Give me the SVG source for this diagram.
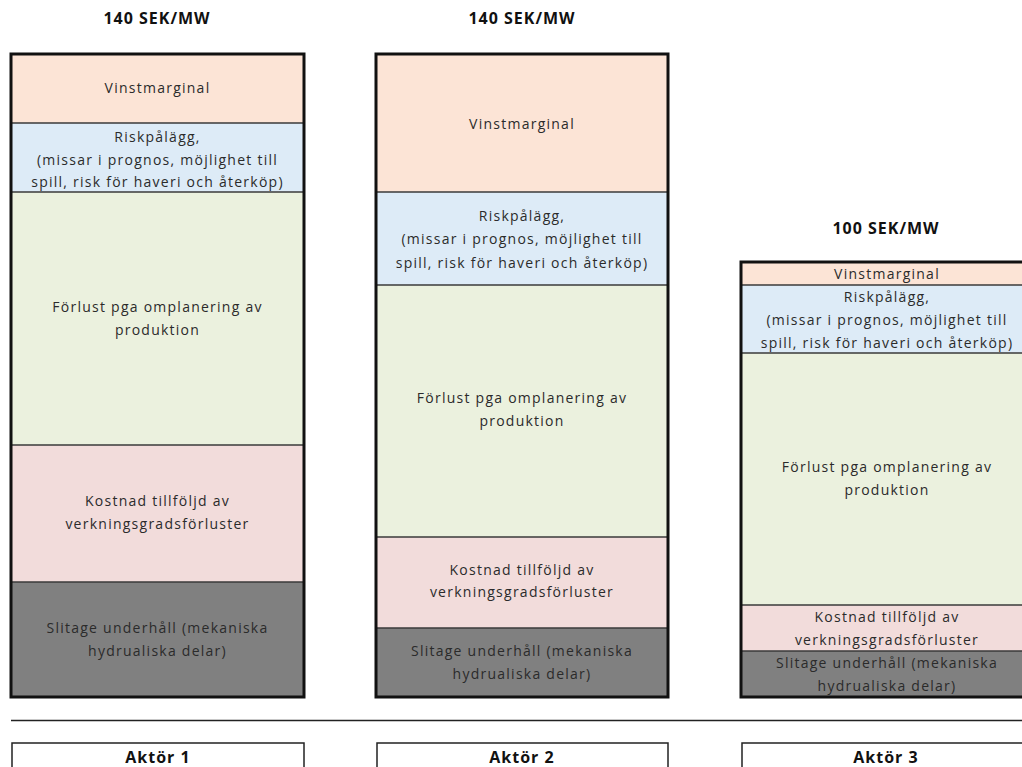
<svg xmlns="http://www.w3.org/2000/svg" width="1022" height="767" viewBox="0 0 1022 767">
<style>
.t{font-family:"Open Sans","Liberation Sans",sans-serif;font-size:14px;letter-spacing:1.25px;fill:#2b2b2b;text-anchor:middle}
.h{font-family:"Open Sans","Liberation Sans",sans-serif;font-size:16px;font-weight:bold;fill:#111;text-anchor:middle;letter-spacing:1px}
.div{stroke:#3a3a3a;stroke-width:1.5}
.outer{fill:none;stroke:#111;stroke-width:3}
.v{fill:#FCE4D6}.r{fill:#DDEBF7}.f{fill:#EBF1DE}.k{fill:#F2DCDB}.s{fill:#808080}
.lab{fill:#fff;stroke:#222;stroke-width:1.5}
</style>
<rect width="1022" height="767" fill="#fff"/>
<g id="aktor1">
<text class="h" x="157" y="24">140 SEK/MW</text>
<rect class="v" x="11" y="54" width="293" height="69"/>
<rect class="r" x="11" y="123" width="293" height="69"/>
<rect class="f" x="11" y="192" width="293" height="253"/>
<rect class="k" x="11" y="445" width="293" height="137"/>
<rect class="s" x="11" y="582" width="293" height="115"/>
<line class="div" x1="11" y1="123" x2="304" y2="123"/>
<line class="div" x1="11" y1="192" x2="304" y2="192"/>
<line class="div" x1="11" y1="445" x2="304" y2="445"/>
<line class="div" x1="11" y1="582" x2="304" y2="582"/>
<rect class="outer" x="11" y="54" width="293" height="643"/>
<text class="t" x="157.5" y="93">Vinstmarginal</text>
<text class="t" x="157.5" y="142">Riskpålägg,</text>
<text class="t" x="157.5" y="165">(missar i prognos, möjlighet till</text>
<text class="t" x="157.5" y="187">spill, risk för haveri och återköp)</text>
<text class="t" x="157.5" y="312">Förlust pga omplanering av</text>
<text class="t" x="157.5" y="335">produktion</text>
<text class="t" x="157.5" y="506">Kostnad tillföljd av</text>
<text class="t" x="157.5" y="529">verkningsgradsförluster</text>
<text class="t" x="157.5" y="633">Slitage underhåll (mekaniska</text>
<text class="t" x="157.5" y="656">hydrualiska delar)</text>
<rect class="lab" x="12" y="743" width="292" height="40"/>
<text class="h" x="158" y="763">Aktör 1</text>
</g>
<g id="aktor2">
<text class="h" x="522" y="24">140 SEK/MW</text>
<rect class="v" x="376" y="54" width="292" height="138"/>
<rect class="r" x="376" y="192" width="292" height="93"/>
<rect class="f" x="376" y="285" width="292" height="252"/>
<rect class="k" x="376" y="537" width="292" height="91"/>
<rect class="s" x="376" y="628" width="292" height="69"/>
<line class="div" x1="376" y1="192" x2="668" y2="192"/>
<line class="div" x1="376" y1="285" x2="668" y2="285"/>
<line class="div" x1="376" y1="537" x2="668" y2="537"/>
<line class="div" x1="376" y1="628" x2="668" y2="628"/>
<rect class="outer" x="376" y="54" width="292" height="643"/>
<text class="t" x="522" y="129">Vinstmarginal</text>
<text class="t" x="522" y="221">Riskpålägg,</text>
<text class="t" x="522" y="244">(missar i prognos, möjlighet till</text>
<text class="t" x="522" y="268">spill, risk för haveri och återköp)</text>
<text class="t" x="522" y="403">Förlust pga omplanering av</text>
<text class="t" x="522" y="426">produktion</text>
<text class="t" x="522" y="575">Kostnad tillföljd av</text>
<text class="t" x="522" y="597">verkningsgradsförluster</text>
<text class="t" x="522" y="656">Slitage underhåll (mekaniska</text>
<text class="t" x="522" y="679">hydrualiska delar)</text>
<rect class="lab" x="377" y="743" width="291" height="40"/>
<text class="h" x="522" y="763">Aktör 2</text>
</g>
<g id="aktor3">
<text class="h" x="886" y="234">100 SEK/MW</text>
<rect class="v" x="741" y="262" width="292" height="23"/>
<rect class="r" x="741" y="285" width="292" height="68"/>
<rect class="f" x="741" y="353" width="292" height="252"/>
<rect class="k" x="741" y="605" width="292" height="46"/>
<rect class="s" x="741" y="651" width="292" height="46"/>
<line class="div" x1="741" y1="285" x2="1033" y2="285"/>
<line class="div" x1="741" y1="353" x2="1033" y2="353"/>
<line class="div" x1="741" y1="605" x2="1033" y2="605"/>
<line class="div" x1="741" y1="651" x2="1033" y2="651"/>
<rect class="outer" x="741" y="262" width="292" height="435"/>
<text class="t" x="887" y="279">Vinstmarginal</text>
<text class="t" x="887" y="302">Riskpålägg,</text>
<text class="t" x="887" y="325">(missar i prognos, möjlighet till</text>
<text class="t" x="887" y="348">spill, risk för haveri och återköp)</text>
<text class="t" x="887" y="472">Förlust pga omplanering av</text>
<text class="t" x="887" y="495">produktion</text>
<text class="t" x="887" y="622">Kostnad tillföljd av</text>
<text class="t" x="887" y="645">verkningsgradsförluster</text>
<text class="t" x="887" y="668">Slitage underhåll (mekaniska</text>
<text class="t" x="887" y="691">hydrualiska delar)</text>
<rect class="lab" x="742" y="743" width="292" height="40"/>
<text class="h" x="886" y="763">Aktör 3</text>
</g>
<g id="connectors">
<line x1="11" y1="720.5" x2="1022" y2="720.5" stroke="#222" stroke-width="1.5"/>
</g>
</svg>
